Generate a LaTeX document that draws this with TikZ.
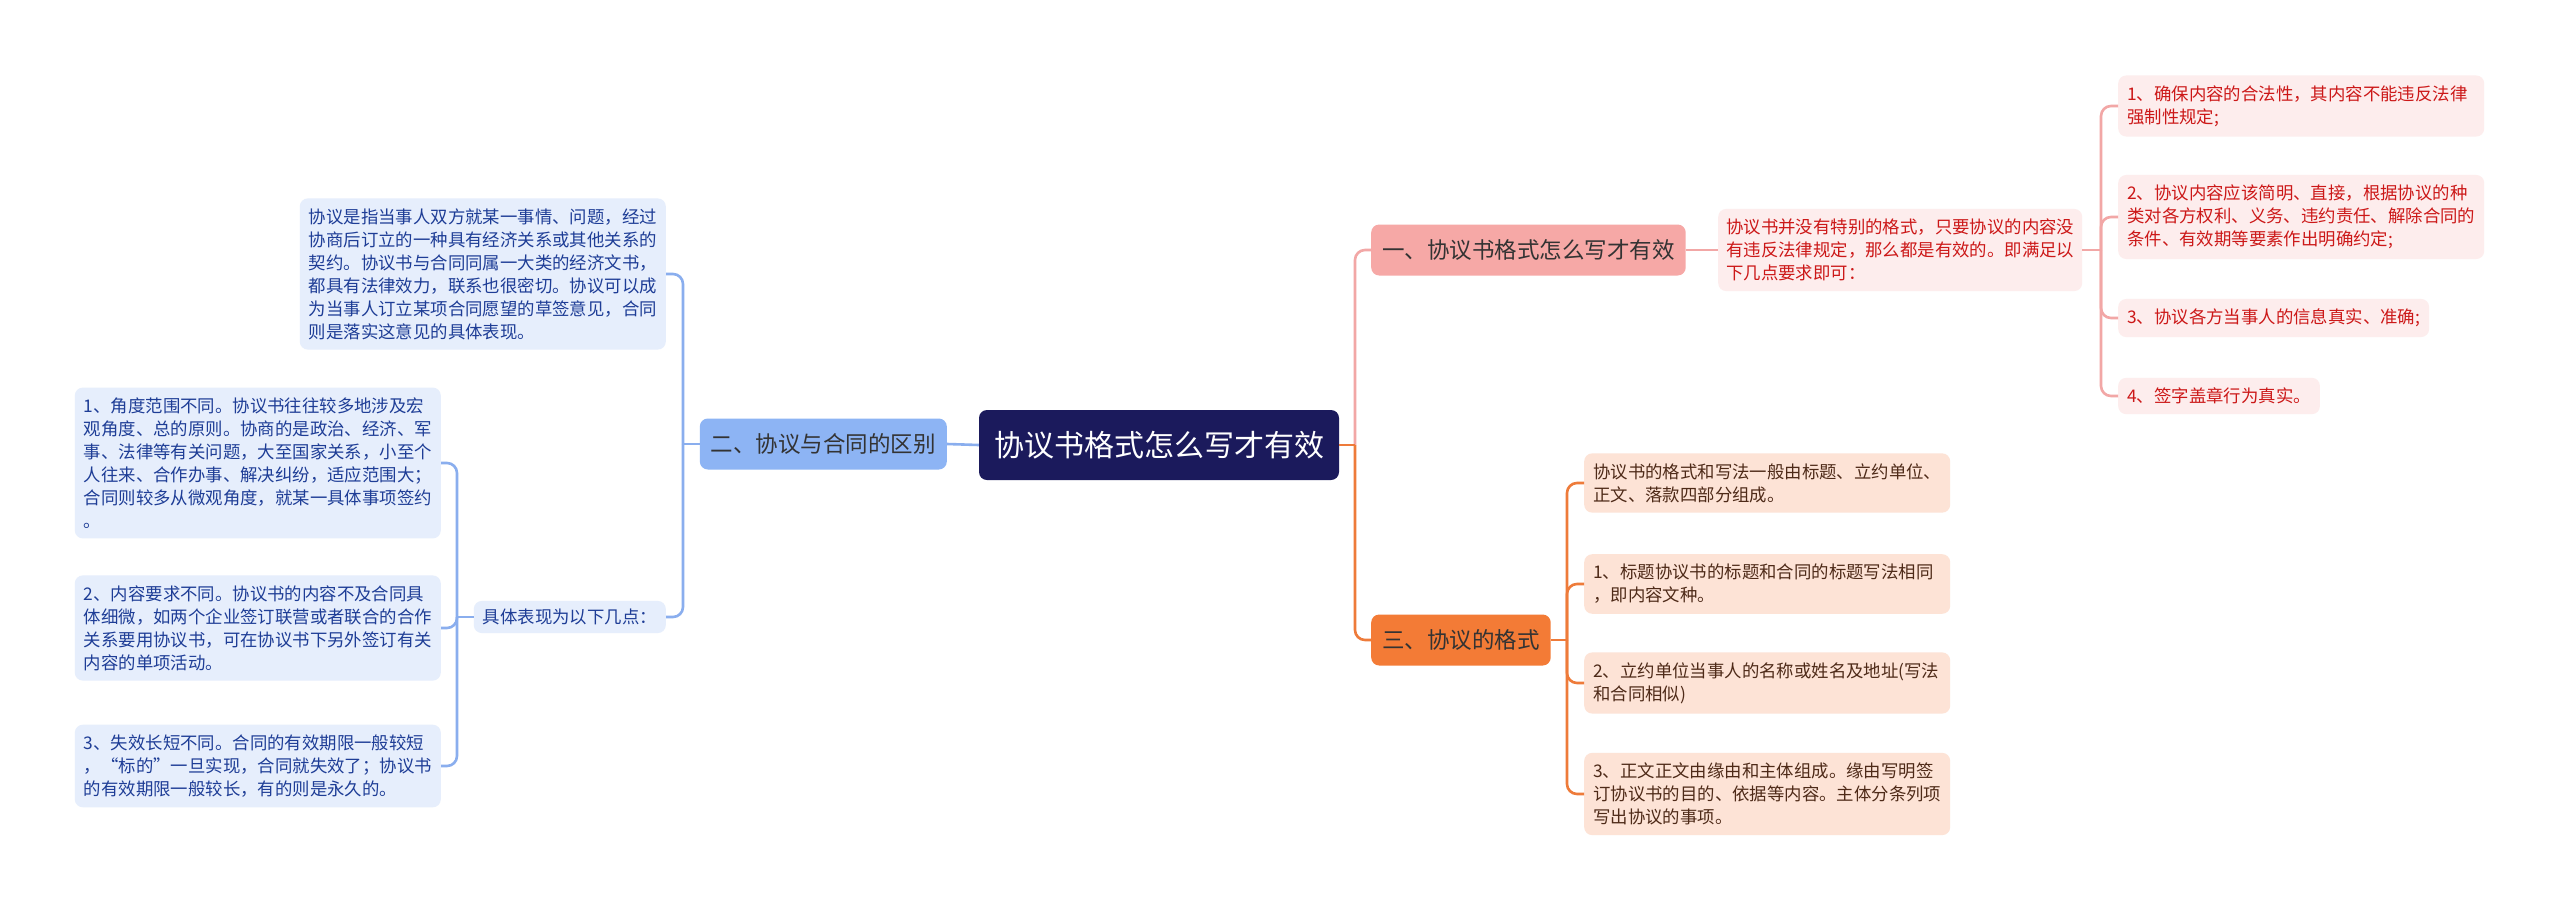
\documentclass[tikz,border=0pt]{standalone}
\usepackage{fontspec}
\setmainfont{Noto Sans CJK SC}
\definecolor{navy}{HTML}{1B1A5C}
\definecolor{btopic}{HTML}{8DB4F4}
\definecolor{bleaf}{HTML}{E6EEFC}
\definecolor{btext}{HTML}{1E3D96}
\definecolor{bline}{HTML}{8AAEEE}
\definecolor{rtopic}{HTML}{F6A8A6}
\definecolor{rleaf}{HTML}{FDEDED}
\definecolor{rtext}{HTML}{CC1818}
\definecolor{rline}{HTML}{F2A7A6}
\definecolor{otopic}{HTML}{F37B36}
\definecolor{oleaf}{HTML}{FDE3D6}
\definecolor{otext}{HTML}{4E2A18}
\definecolor{oline}{HTML}{EE7B3A}
\definecolor{dtext}{HTML}{333333}
\newcommand\leaffont{\fontsize{17.4}{23}\selectfont}
\newcommand\topicfont{\fontsize{22.5}{27}\selectfont}
\newcommand\rootfont{\fontsize{30}{36}\selectfont}
\tikzset{
  leafbox/.style={rounded corners=8pt, inner xsep=9pt, inner ysep=10pt, align=left, font=\leaffont},
  wide/.style={text width=348pt},
  bl/.style={leafbox, fill=bleaf, text=btext},
  rl/.style={leafbox, fill=rleaf, text=rtext},
  ol/.style={leafbox, fill=oleaf, text=otext},
  topicbox/.style={rounded corners=8pt, inner xsep=11pt, inner ysep=4pt, minimum height=51pt, font=\topicfont, text=dtext},
  rootbox/.style={rounded corners=8pt, inner xsep=15pt, minimum height=70pt, font=\rootfont, fill=navy, text=white},
  conn/.style={line width=2.6pt, rounded corners=10pt},
}
\begin{document}
\begin{tikzpicture}[x=1pt, y=-1pt]
\useasboundingbox (0,0) rectangle (2560,911);
\fill[white] (0,0) rectangle (2560,911);

% root
\node[rootbox] (root) at (1159,445) {协议书格式怎么写才有效};

% left branch
\node[topicbox, fill=btopic, anchor=east] (b2) at (947,444) {二、协议与合同的区别};
\node[bl, wide, anchor=east] (lt) at (666,274) {协议是指当事人双方就某一事情、问题，经过\\协商后订立的一种具有经济关系或其他关系的\\契约。协议书与合同同属一大类的经济文书，\\都具有法律效力，联系也很密切。协议可以成\\为当事人订立某项合同愿望的草签意见，合同\\则是落实这意见的具体表现。};
\node[bl, anchor=east, inner ysep=8pt] (lk) at (666,617) {具体表现为以下几点：};
\node[bl, wide, anchor=east] (l1) at (441,463) {1、角度范围不同。协议书往往较多地涉及宏\\观角度、总的原则。协商的是政治、经济、军\\事、法律等有关问题，大至国家关系，小至个\\人往来、合作办事、解决纠纷，适应范围大；\\合同则较多从微观角度，就某一具体事项签约\\。};
\node[bl, wide, anchor=east] (l2) at (441,628) {2、内容要求不同。协议书的内容不及合同具\\体细微，如两个企业签订联营或者联合的合作\\关系要用协议书，可在协议书下另外签订有关\\内容的单项活动。};
\node[bl, wide, anchor=east] (l3) at (441,766) {3、失效长短不同。合同的有效期限一般较短\\，“标的”一旦实现，合同就失效了；协议书\\的有效期限一般较长，有的则是永久的。};

% right upper branch
\node[topicbox, fill=rtopic, anchor=west] (r1) at (1371,250) {一、协议书格式怎么写才有效};
\node[rl, wide, anchor=west, inner xsep=8pt] (rd) at (1718,250) {协议书并没有特别的格式，只要协议的内容没\\有违反法律规定，那么都是有效的。即满足以\\下几点要求即可：};
\node[rl, wide, anchor=west] (ri1) at (2118,106) {1、确保内容的合法性，其内容不能违反法律\\强制性规定;};
\node[rl, wide, anchor=west] (ri2) at (2118,217) {2、协议内容应该简明、直接，根据协议的种\\类对各方权利、义务、违约责任、解除合同的\\条件、有效期等要素作出明确约定;};
\node[rl, anchor=west] (ri3) at (2118,318) {3、协议各方当事人的信息真实、准确;};
\node[rl, anchor=west] (ri4) at (2118,396) {4、签字盖章行为真实。};

% right lower branch
\node[topicbox, fill=otopic, anchor=west] (o3) at (1371,640) {三、协议的格式};
\node[ol, wide, anchor=west] (oi0) at (1584,483) {协议书的格式和写法一般由标题、立约单位、\\正文、落款四部分组成。};
\node[ol, wide, anchor=west] (oi1) at (1584,584) {1、标题协议书的标题和合同的标题写法相同\\，即内容文种。};
\node[ol, wide, anchor=west] (oi2) at (1584,683) {2、立约单位当事人的名称或姓名及地址(写法\\和合同相似)};
\node[ol, wide, anchor=west] (oi3) at (1584,794) {3、正文正文由缘由和主体组成。缘由写明签\\订协议书的目的、依据等内容。主体分条列项\\写出协议的事项。};

% trunk coordinates
\coordinate (t2) at (683,444);
\coordinate (tk) at (457,617);
\coordinate (tr) at (1355,445);
\coordinate (trd) at (2101,250);
\coordinate (to) at (1567,640);

% connectors: left
\draw[conn, bline] (root.west) -- (b2.east);
\draw[conn, bline] (b2.west) -- (t2);
\draw[conn, bline] (t2) |- (lt.east);
\draw[conn, bline] (t2) |- (lk.east);
\draw[conn, bline] (lk.west) -- (tk);
\draw[conn, bline] (tk) |- (l1.east);
\draw[conn, bline] (tk) |- (l2.east);
\draw[conn, bline] (tk) |- (l3.east);

% connectors: right upper
\draw[conn, rline] (tr) |- (r1.west);
\draw[conn, rline] (r1.east) -- (rd.west);
\draw[conn, rline] (rd.east) -- (trd);
\draw[conn, rline] (trd) |- (ri1.west);
\draw[conn, rline] (trd) |- (ri2.west);
\draw[conn, rline] (trd) |- (ri3.west);
\draw[conn, rline] (trd) |- (ri4.west);

% connectors: right lower
\draw[conn, oline] (root.east) -- (tr);
\draw[conn, oline] (tr) |- (o3.west);
\draw[conn, oline] (o3.east) -- (to);
\draw[conn, oline] (to) |- (oi0.west);
\draw[conn, oline] (to) |- (oi1.west);
\draw[conn, oline] (to) |- (oi2.west);
\draw[conn, oline] (to) |- (oi3.west);
\end{tikzpicture}
\end{document}
